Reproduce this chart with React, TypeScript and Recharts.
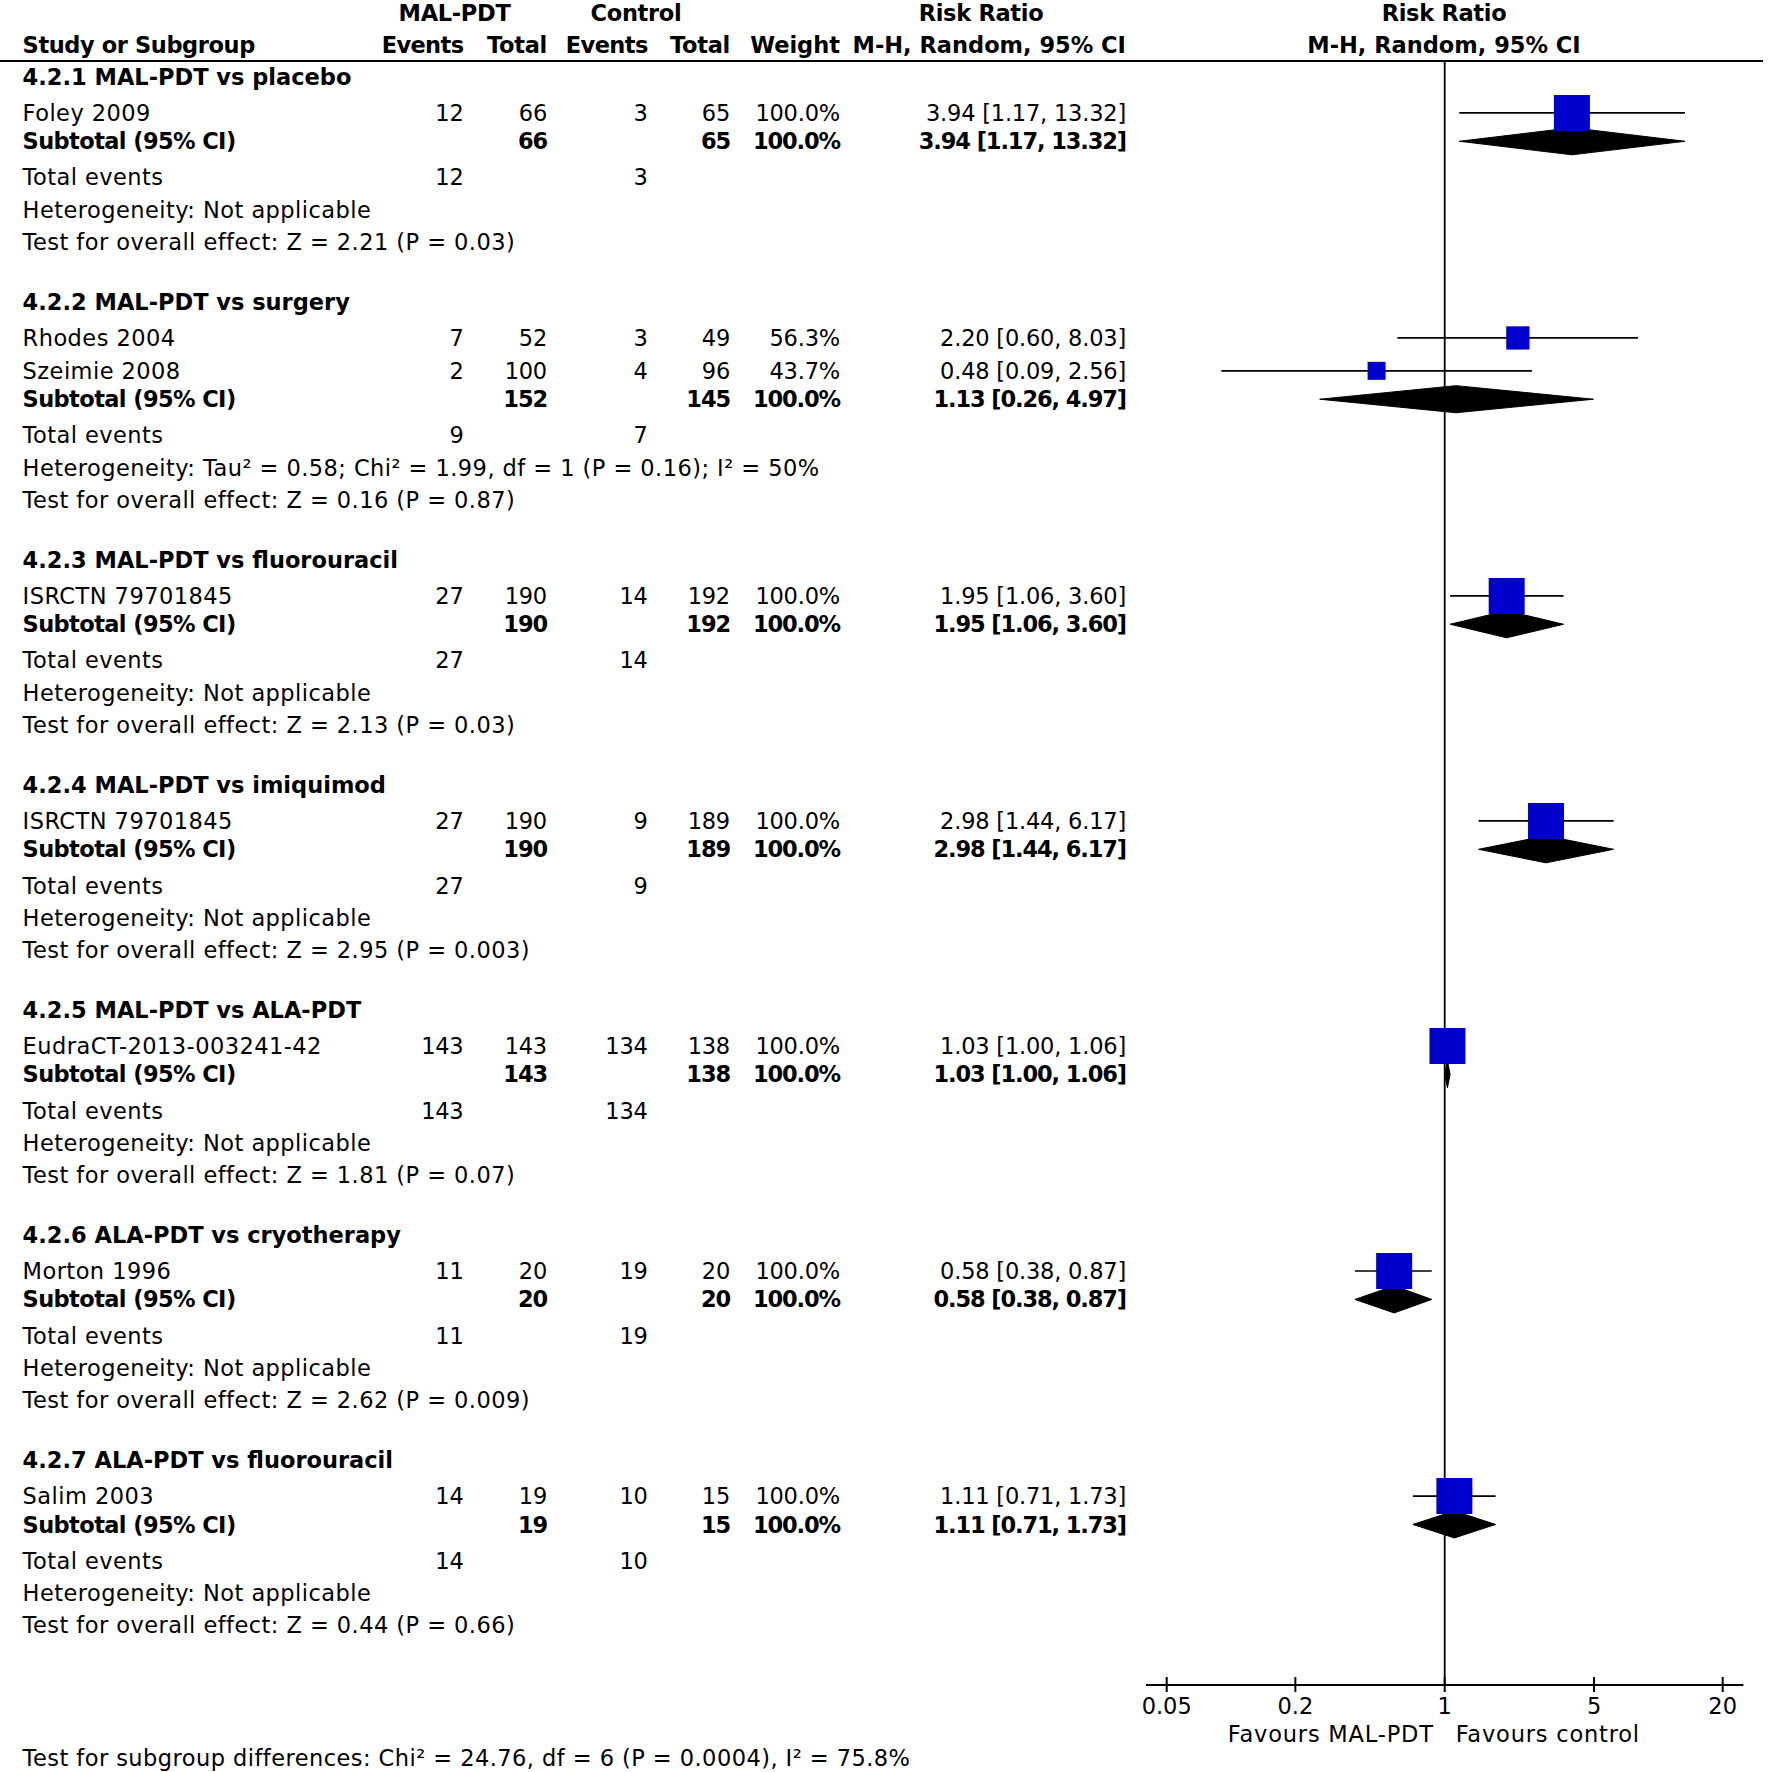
import React from "react";
import { ScatterChart, Scatter, XAxis, YAxis, ZAxis, ErrorBar, ReferenceLine } from "recharts";

// ---- data ----
const GROUPS = [
  "4.2.1 MAL-PDT vs placebo",
  "4.2.2 MAL-PDT vs surgery",
  "4.2.3 MAL-PDT vs fluorouracil",
  "4.2.4 MAL-PDT vs imiquimod",
  "4.2.5 MAL-PDT vs ALA-PDT",
  "4.2.6 ALA-PDT vs cryotherapy",
  "4.2.7 ALA-PDT vs fluorouracil",
];

const STUDY_NAMES = [
  "Foley 2009",
  "Rhodes 2004",
  "Szeimie 2008",
  "ISRCTN 79701845",
  "ISRCTN 79701845",
  "EudraCT-2013-003241-42",
  "Morton 1996",
  "Salim 2003",
];
const STUDY_GROUP = [0, 1, 1, 2, 3, 4, 5, 6];
const EXP_EVENTS = [12, 7, 2, 27, 27, 143, 11, 14];
const EXP_TOTAL = [66, 52, 100, 190, 190, 143, 20, 19];
const CTL_EVENTS = [3, 3, 4, 14, 9, 134, 19, 10];
const CTL_TOTAL = [65, 49, 96, 192, 189, 138, 20, 15];
const WEIGHT = [100, 56.3, 43.7, 100, 100, 100, 100, 100];
const RR = [3.94, 2.2, 0.48, 1.95, 2.98, 1.03, 0.58, 1.11];
const RR_LO = [1.17, 0.6, 0.09, 1.06, 1.44, 1.0, 0.38, 0.71];
const RR_HI = [13.32, 8.03, 2.56, 3.6, 6.17, 1.06, 0.87, 1.73];

const SUB_EXP_TOTAL = [66, 152, 190, 190, 143, 20, 19];
const SUB_CTL_TOTAL = [65, 145, 192, 189, 138, 20, 15];
const SUB_EXP_EVENTS = [12, 9, 27, 27, 143, 11, 14];
const SUB_CTL_EVENTS = [3, 7, 14, 9, 134, 19, 10];
const SUB_WEIGHT = [100, 100, 100, 100, 100, 100, 100];
const SUB_RR = [3.94, 1.13, 1.95, 2.98, 1.03, 0.58, 1.11];
const SUB_LO = [1.17, 0.26, 1.06, 1.44, 1.0, 0.38, 0.71];
const SUB_HI = [13.32, 4.97, 3.6, 6.17, 1.06, 0.87, 1.73];
const HETEROGENEITY = [
  "Not applicable",
  "Tau² = 0.58; Chi² = 1.99, df = 1 (P = 0.16); I² = 50%",
  "Not applicable",
  "Not applicable",
  "Not applicable",
  "Not applicable",
  "Not applicable",
];
const OVERALL_Z = ["2.21", "0.16", "2.13", "2.95", "1.81", "2.62", "0.44"];
const OVERALL_P = ["0.03", "0.87", "0.03", "0.003", "0.07", "0.009", "0.66"];

const X_TICKS = [0.05, 0.2, 1, 5, 20];
const SUBGROUP_TEST = "Test for subgroup differences: Chi² = 24.76, df = 6 (P = 0.0004), I² = 75.8%";

// ---- layout ----
const W = 1769;
const H = 1772;
const FONT = "'DejaVu Sans', sans-serif";
const FS = 22.5;
const PLOT_TOP = 61;
const PLOT_LEFT = 1146;
const PLOT_RIGHT = 25.6;
const AXIS_H = 87;
const NAME_X = 22.6;
const COL = { expEvents: 463.5, expTotal: 547, ctlEvents: 647.7, ctlTotal: 730, weight: 840, ci: 1126 };
// letter spacing tweaks so the text widths follow the original typeface
const LS = { text: 0.45, num: -0.2, boldNum: -1.1, boldText: -0.6 };

// vertical gaps in line units, by row kind
const GAP = { first: 0.49, group: 1.86, studyAfterGroup: 1.12, study: 1.02, subtotal: 0.88, events: 1.12, het: 1, test: 1, axis: 1.86 };
const DIAMOND_H = 0.42;

type Row = { kind: "group" | "study" | "subtotal" | "events" | "het" | "test"; g: number; s: number; y: number };

function buildRows() {
  const rows: Row[] = [];
  let y = 0;
  GROUPS.forEach((_, g) => {
    y += g === 0 ? GAP.first : GAP.group;
    rows.push({ kind: "group", g, s: -1, y });
    STUDY_GROUP.forEach((sg, s) => {
      if (sg !== g) return;
      y += rows[rows.length - 1].kind === "group" ? GAP.studyAfterGroup : GAP.study;
      rows.push({ kind: "study", g, s, y });
    });
    y += GAP.subtotal;
    rows.push({ kind: "subtotal", g, s: -1, y });
    y += GAP.events;
    rows.push({ kind: "events", g, s: -1, y });
    y += GAP.het;
    rows.push({ kind: "het", g, s: -1, y });
    y += GAP.test;
    rows.push({ kind: "test", g, s: -1, y });
  });
  return { rows, bottom: y + GAP.axis };
}

const { rows: ROWS, bottom: Y_MAX } = buildRows();

const studyData = ROWS.filter((r) => r.kind === "study").map((r) => ({
  x: RR[r.s],
  y: r.y,
  weight: WEIGHT[r.s],
  err: [RR[r.s] - RR_LO[r.s], RR_HI[r.s] - RR[r.s]],
}));

const diamondData = ROWS.filter((r) => r.kind === "subtotal").map((r) => [
  { x: SUB_LO[r.g], y: r.y },
  { x: SUB_RR[r.g], y: r.y - DIAMOND_H },
  { x: SUB_HI[r.g], y: r.y },
  { x: SUB_RR[r.g], y: r.y + DIAMOND_H },
  { x: SUB_LO[r.g], y: r.y },
]);

const f2 = (v: number) => v.toFixed(2);
const ciText = (e: number, lo: number, hi: number) => `${f2(e)} [${f2(lo)}, ${f2(hi)}]`;

function T({ x, y, anchor = "start", bold = false, ls = 0, children }: any) {
  return (
    <text
      x={x}
      y={y}
      dy="0.36em"
      textAnchor={anchor}
      fontFamily={FONT}
      fontSize={FS}
      fontWeight={bold ? "bold" : "normal"}
      letterSpacing={ls}
      fill="#000"
    >
      {children}
    </text>
  );
}

// regular numeric cell, right aligned
function N({ x, y, children }: any) {
  return <T x={x} y={y} anchor="end" ls={LS.num}>{children}</T>;
}

// bold numeric cell, right aligned
function B({ x, y, children }: any) {
  return <T x={x} y={y} anchor="end" bold ls={LS.boldNum}>{children}</T>;
}

function RowTick(props: any) {
  const { y, payload } = props;
  const row = ROWS.find((r) => Math.abs(r.y - payload.value) < 1e-6);
  if (!row) return null;
  const { g, s } = row;
  switch (row.kind) {
    case "group":
      return <T x={NAME_X} y={y} bold>{GROUPS[g]}</T>;
    case "study":
      return (
        <g>
          <T x={NAME_X} y={y} ls={LS.text}>{STUDY_NAMES[s]}</T>
          <N x={COL.expEvents} y={y}>{EXP_EVENTS[s]}</N>
          <N x={COL.expTotal} y={y}>{EXP_TOTAL[s]}</N>
          <N x={COL.ctlEvents} y={y}>{CTL_EVENTS[s]}</N>
          <N x={COL.ctlTotal} y={y}>{CTL_TOTAL[s]}</N>
          <N x={COL.weight} y={y}>{WEIGHT[s].toFixed(1)}%</N>
          <N x={COL.ci} y={y}>{ciText(RR[s], RR_LO[s], RR_HI[s])}</N>
        </g>
      );
    case "subtotal":
      return (
        <g>
          <T x={NAME_X} y={y} bold ls={LS.boldText}>Subtotal (95% CI)</T>
          <B x={COL.expTotal} y={y}>{SUB_EXP_TOTAL[g]}</B>
          <B x={COL.ctlTotal} y={y}>{SUB_CTL_TOTAL[g]}</B>
          <B x={COL.weight} y={y}>{SUB_WEIGHT[g].toFixed(1)}%</B>
          <B x={COL.ci} y={y}>{ciText(SUB_RR[g], SUB_LO[g], SUB_HI[g])}</B>
        </g>
      );
    case "events":
      return (
        <g>
          <T x={NAME_X} y={y} ls={LS.text}>Total events</T>
          <N x={COL.expEvents} y={y}>{SUB_EXP_EVENTS[g]}</N>
          <N x={COL.ctlEvents} y={y}>{SUB_CTL_EVENTS[g]}</N>
        </g>
      );
    case "het":
      return <T x={NAME_X} y={y} ls={LS.text}>Heterogeneity: {HETEROGENEITY[g]}</T>;
    case "test":
      return <T x={NAME_X} y={y} ls={LS.text}>{`Test for overall effect: Z = ${OVERALL_Z[g]} (P = ${OVERALL_P[g]})`}</T>;
  }
  return null;
}

function XTick(props: any) {
  const { x, y, payload } = props;
  return (
    <g>
      <line x1={x} x2={x} y1={y - 8} y2={y + 7} stroke="#000" strokeWidth={2} />
      <T x={x} y={y + 21} anchor="middle">{String(payload.value)}</T>
    </g>
  );
}

function FavoursLabel(props: any) {
  const vb = props.viewBox;
  if (!vb) return null;
  const y = vb.y + vb.height + 49;
  return (
    <g>
      <T x={vb.x - 11} y={y} anchor="end" ls={0.8}>Favours MAL-PDT</T>
      <T x={vb.x + 11} y={y} ls={0.8}>Favours control</T>
    </g>
  );
}

export default function App() {
  return (
    <div style={{ position: "absolute", left: 0, top: 0, width: W, height: H, background: "#fff" }}>
      <ScatterChart width={W} height={H} margin={{ top: PLOT_TOP, right: PLOT_RIGHT, bottom: 0, left: 0 }}>
        <XAxis
          type="number"
          dataKey="x"
          scale="log"
          domain={[0.04, 25]}
          allowDataOverflow
          ticks={X_TICKS}
          interval={0}
          axisLine={{ stroke: "#000", strokeWidth: 2 }}
          tickLine={false}
          tickSize={0}
          tickMargin={0}
          tick={(p: any) => <XTick {...p} />}
          height={AXIS_H}
        />
        <YAxis
          type="number"
          dataKey="y"
          domain={[0, Y_MAX]}
          reversed
          ticks={ROWS.map((r) => r.y)}
          interval={0}
          axisLine={false}
          tickLine={false}
          tickSize={0}
          tickMargin={0}
          width={PLOT_LEFT}
          tick={(p: any) => <RowTick {...p} />}
        />
        <ZAxis type="number" dataKey="weight" domain={[43.7, 100]} range={[324, 1296]} />
        <ZAxis zAxisId="d" range={[1, 1]} />
        <ReferenceLine x={1} stroke="#000" strokeWidth={1.8} label={(p: any) => <FavoursLabel {...p} />} />
        {diamondData.map((d, i) => (
          <Scatter
            key={i}
            data={d}
            zAxisId="d"
            shape={() => <g />}
            line={{ fill: "#000", stroke: "#000", strokeWidth: 1 }}
            lineJointType="linear"
            isAnimationActive={false}
          />
        ))}
        <Scatter data={studyData} shape="square" fill="#0000cc" isAnimationActive={false}>
          <ErrorBar dataKey="err" direction="x" width={0} stroke="#000" strokeWidth={1.7} isAnimationActive={false} />
        </Scatter>
      </ScatterChart>
      <svg width={W} height={H} style={{ position: "absolute", left: 0, top: 0, pointerEvents: "none" }}>
        <T x={454.5} y={12.4} anchor="middle" bold ls={-0.3}>MAL-PDT</T>
        <T x={636} y={12.4} anchor="middle" bold ls={-0.3}>Control</T>
        <T x={981} y={12.4} anchor="middle" bold ls={-0.3}>Risk Ratio</T>
        <T x={1444} y={12.4} anchor="middle" bold ls={-0.3}>Risk Ratio</T>
        <T x={NAME_X} y={45} bold ls={-0.4}>Study or Subgroup</T>
        <T x={COL.expEvents} y={45} anchor="end" bold ls={-0.6}>Events</T>
        <T x={COL.expTotal} y={45} anchor="end" bold ls={-0.3}>Total</T>
        <T x={COL.ctlEvents} y={45} anchor="end" bold ls={-0.6}>Events</T>
        <T x={COL.ctlTotal} y={45} anchor="end" bold ls={-0.3}>Total</T>
        <T x={COL.weight} y={45} anchor="end" bold>Weight</T>
        <T x={COL.ci} y={45} anchor="end" bold>M-H, Random, 95% CI</T>
        <T x={1444} y={45} anchor="middle" bold>M-H, Random, 95% CI</T>
        <line x1={0} x2={1763} y1={PLOT_TOP} y2={PLOT_TOP} stroke="#000" strokeWidth={2} />
        <T x={NAME_X} y={1758} ls={LS.text}>{SUBGROUP_TEST}</T>
      </svg>
    </div>
  );
}
